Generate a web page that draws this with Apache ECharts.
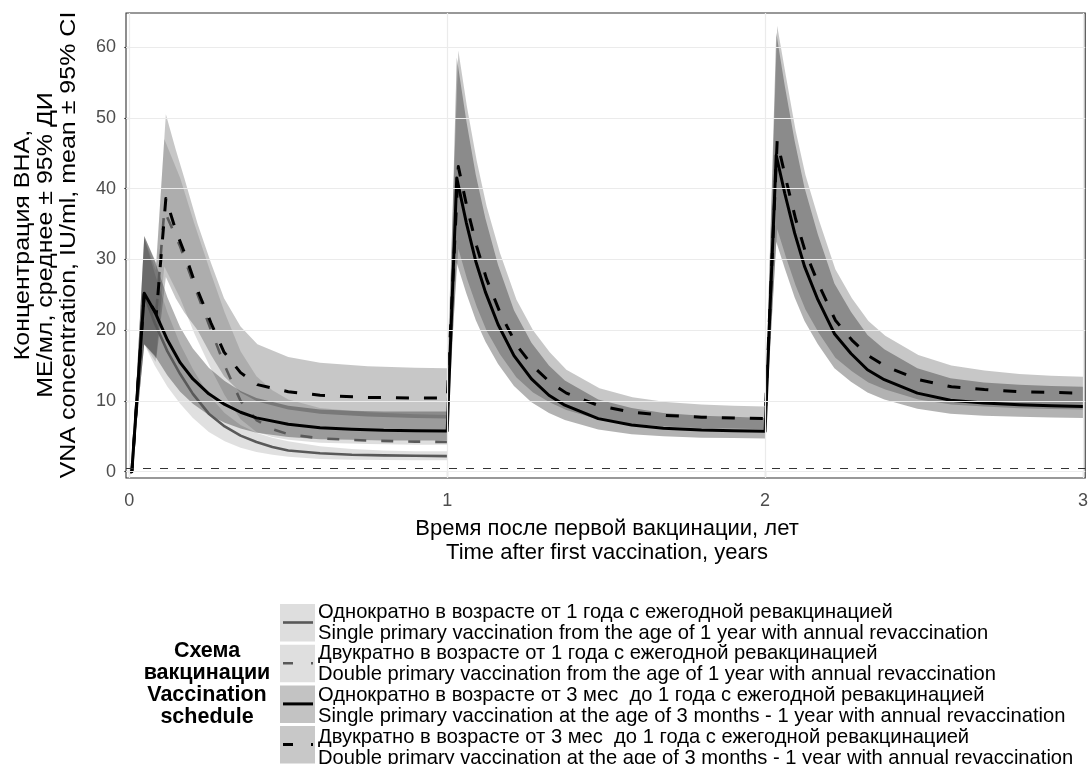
<!DOCTYPE html>
<html>
<head>
<meta charset="utf-8">
<script src="https://cdn.jsdelivr.net/npm/echarts@6/dist/echarts.min.js"></script>
<style>
html, body { margin: 0; padding: 0; background: #fff; }
#chart { width: 1091px; height: 764px; }
</style>
</head>
<body>
<div id="chart"></div>
<script>
// Однократно в возрасте от 1 года (только первый год)
var tS1 = [0, 0.008, 0.047, 0.08, 0.12, 0.16, 0.2, 0.25, 0.3, 0.35, 0.4, 0.45, 0.5, 0.6, 0.7, 0.8, 0.9, 1.0]
var meanS1 = [0, 0, 25.0, 21.0, 17.0, 13.8, 11.0, 8.2, 6.4, 5.1, 4.2, 3.5, 3.0, 2.6, 2.4, 2.3, 2.25, 2.2]
var loS1 = [0, 0, 18.0, 15.0, 12.0, 9.6, 7.6, 5.6, 4.3, 3.4, 2.8, 2.4, 2.1, 1.8, 1.7, 1.65, 1.6, 1.6]
var hiS1 = [0, 0, 33.0, 28.0, 22.5, 18.0, 14.5, 10.8, 8.3, 6.6, 5.5, 4.8, 4.3, 3.6, 3.2, 3.0, 2.9, 2.9]

// Двукратно в возрасте от 1 года
var tS2 = [0, 0.008, 0.047, 0.083, 0.11, 0.16, 0.205, 0.257, 0.3, 0.35, 0.4, 0.45, 0.5, 0.6, 0.75, 0.9, 1.0]
var meanS2 = [0, 0, 25.0, 21.5, 36.9, 31.8, 26.2, 20.0, 15.0, 10.0, 7.3, 6.0, 5.3, 4.7, 4.4, 4.25, 4.2]
var loS2 = [0, 0, 18.0, 15.5, 29.0, 24.5, 19.5, 14.5, 10.8, 7.4, 5.6, 4.9, 4.5, 4.1, 3.9, 3.8, 3.8]
var hiS2 = [0, 0, 33.0, 28.5, 47.0, 41.5, 35.0, 28.0, 22.5, 17.0, 13.5, 11.5, 10.2, 9.0, 8.4, 8.1, 8.0]

// Однократно в возрасте от 3 мес до 1 года
var tS3 = [0, 0.008, 0.047, 0.08, 0.12, 0.16, 0.2, 0.25, 0.3, 0.35, 0.4, 0.5, 0.6, 0.7, 0.8, 0.9, 1.0,
  1.03, 1.06, 1.09, 1.12, 1.16, 1.21, 1.265, 1.32, 1.37, 1.475, 1.58, 1.68, 1.8, 1.9, 2.0,
  2.035, 2.062, 2.093, 2.124, 2.166, 2.218, 2.27, 2.322, 2.375, 2.479, 2.583, 2.688, 2.8, 2.9, 3.0]
var meanS3 = [0, 0, 25.2, 22.6, 18.6, 15.4, 13.1, 11.0, 9.5, 8.4, 7.6, 6.7, 6.2, 6.0, 5.85, 5.8, 5.75,
  41.5, 35.2, 29.7, 25.4, 20.8, 16.4, 13.1, 10.8, 9.4, 7.5, 6.6, 6.15, 5.9, 5.8, 5.7,
  44.7, 39.3, 33.7, 29.0, 24.3, 19.5, 16.7, 14.4, 13.0, 11.1, 10.1, 9.7, 9.45, 9.3, 9.2]
var loS3 = [0, 0, 18.0, 16.4, 13.6, 11.3, 9.6, 8.0, 6.9, 6.1, 5.5, 4.9, 4.6, 4.5, 4.4, 4.4, 4.4,
  29.5, 25.2, 21.4, 18.4, 15.2, 12.1, 9.8, 8.3, 7.3, 5.95, 5.3, 5.0, 4.8, 4.75, 4.7,
  32.5, 28.7, 24.6, 21.3, 18.0, 14.6, 12.7, 11.2, 10.2, 8.9, 8.2, 7.9, 7.75, 7.65, 7.6]
var hiS3 = [0, 0, 33.3, 29.8, 24.6, 20.4, 17.4, 14.7, 12.8, 11.4, 10.4, 9.3, 8.8, 8.6, 8.5, 8.5, 8.5,
  58.5, 49.6, 41.9, 35.8, 29.2, 22.8, 18.2, 15.0, 12.9, 10.2, 9.0, 8.3, 7.9, 7.75, 7.6,
  62.0, 54.5, 46.7, 40.1, 33.5, 26.6, 22.6, 19.3, 17.3, 14.6, 13.2, 12.6, 12.3, 12.1, 12.0]

// Двукратно в возрасте от 3 мес до 1 года
var tS4 = [0, 0.008, 0.047, 0.085, 0.115, 0.146, 0.173, 0.215, 0.257, 0.298, 0.35, 0.403, 0.5, 0.6, 0.75, 0.9, 1.0,
  1.035, 1.062, 1.093, 1.124, 1.166, 1.218, 1.27, 1.322, 1.375, 1.479, 1.583, 1.688, 1.8, 1.9, 2.0,
  2.038, 2.065, 2.096, 2.127, 2.169, 2.221, 2.273, 2.325, 2.378, 2.482, 2.586, 2.69, 2.8, 2.9, 3.0]
var meanS4 = [0, 0, 25.2, 22.3, 38.6, 34.1, 31.0, 25.6, 21.0, 16.9, 14.0, 12.3, 11.3, 10.8, 10.5, 10.4, 10.4,
  43.1, 37.4, 31.8, 27.2, 22.5, 17.9, 14.9, 12.7, 11.1, 9.3, 8.4, 7.95, 7.7, 7.6, 7.5,
  46.7, 41.4, 35.7, 31.0, 26.4, 21.4, 18.6, 16.4, 14.9, 13.0, 12.0, 11.6, 11.3, 11.2, 11.1]
var loS4 = [0, 0, 18.0, 16.0, 27.5, 24.5, 22.5, 20.0, 16.5, 13.5, 11.2, 9.9, 8.8, 8.2, 7.8, 7.6, 7.5,
  31.5, 27.3, 23.3, 19.9, 16.6, 13.3, 11.2, 9.8, 8.7, 7.35, 6.75, 6.4, 6.15, 6.1, 6.0,
  34.3, 30.4, 26.3, 22.9, 19.6, 16.1, 14.2, 12.6, 11.6, 10.2, 9.5, 9.2, 8.95, 8.85, 8.8]
var hiS4 = [0, 0, 33.3, 29.5, 50.5, 45.5, 41.5, 35.0, 29.5, 24.5, 20.5, 18.0, 16.2, 15.4, 14.9, 14.7, 14.6,
  59.5, 51.6, 43.9, 37.5, 30.9, 24.3, 20.0, 16.9, 14.4, 11.8, 10.5, 9.85, 9.5, 9.3, 9.2,
  63.0, 56.0, 48.2, 41.9, 35.6, 28.6, 24.5, 21.3, 19.2, 16.5, 15.0, 14.3, 13.8, 13.55, 13.4]

var xTicks = [0, 1, 2, 3]
var yTicks = [0, 10, 20, 30, 40, 50, 60]
var threshold = 0.5

var yTitle = 'Концентрация ВНА,\nМЕ/мл, среднее ± 95% ДИ\nVNA concentration, IU/ml, mean ± 95% CI'
var xTitle = 'Время после первой вакцинации, лет\nTime after first vaccination, years'
var legendTitle = 'Схема\nвакцинации\nVaccination\nschedule'
var legendRu = [
  'Однократно в возрасте от 1 года с ежегодной ревакцинацией',
  'Двукратно в возрасте от 1 года с ежегодной ревакцинацией',
  'Однократно в возрасте от 3 мес  до 1 года с ежегодной ревакцинацией',
  'Двукратно в возрасте от 3 мес  до 1 года с ежегодной ревакцинацией'
]
var legendEn = [
  'Single primary vaccination from the age of 1 year with annual revaccination',
  'Double primary vaccination from the age of 1 year with annual revaccination',
  'Single primary vaccination at the age of 3 months - 1 year with annual revaccination',
  'Double primary vaccination at the age of 3 months - 1 year with annual revaccination'
]

var FONT = '"Liberation Sans", Arial, sans-serif'
var lineColors = ['#595959', '#595959', '#000000', '#000000']
var lineTypes = ['solid', [12, 15], 'solid', [13, 15]]
var lineWidths = [2.6, 2.6, 3, 3]
var ribbonColors = ['rgba(0,0,0,0.12)', 'rgba(0,0,0,0.13)', 'rgba(0,0,0,0.30)', 'rgba(0,0,0,0.22)']
var keyFills = ['#dedede', '#dfdfdf', '#c3c3c3', '#c8c8c8']

function pairs(t, v) {
  return t.map(function (x, i) { return [x, v[i]] })
}

function ribbon(t, lo, hi, color) {
  return {
    type: 'custom',
    silent: true,
    z: 1,
    data: t.map(function (x, i) { return [x, lo[i], hi[i]] }),
    encode: { x: 0, y: [1, 2] },
    renderItem: function (params, api) {
      if (params.dataIndex !== 0) return
      var top = []
      var bottom = []
      for (var i = 0; i < t.length; i++) {
        top.push(api.coord([t[i], hi[i]]))
        bottom.unshift(api.coord([t[i], lo[i]]))
      }
      return {
        type: 'polygon',
        shape: { points: top.concat(bottom) },
        style: { fill: color }
      }
    }
  }
}

function meanLine(t, v, k) {
  return {
    type: 'line',
    silent: true,
    z: 3,
    data: pairs(t, v),
    showSymbol: false,
    symbol: 'none',
    lineStyle: { color: lineColors[k], width: lineWidths[k], type: lineTypes[k], cap: 'butt', join: 'round' }
  }
}

var gridLines = yTicks.map(function (v) { return { yAxis: v } })
  .concat(xTicks.map(function (v) { return { xAxis: v } }))
gridLines.push({
  yAxis: threshold,
  lineStyle: { color: '#333333', width: 1.2, type: [8, 9] }
})

// легенда: ключи и подписи в две строки
var legendGraphics = [{
  type: 'text', x: 207, y: 684,
  style: {
    text: legendTitle, fontFamily: FONT, fontSize: 21.5, fontWeight: 'bold', fill: '#000',
    align: 'center', verticalAlign: 'middle', textAlign: 'center', textVerticalAlign: 'middle', lineHeight: 22
  }
}]
for (var k = 0; k < 4; k++) {
  var keyTop = 604 + k * 40.7
  legendGraphics.push({
    type: 'rect',
    shape: { x: 280, y: keyTop, width: 35, height: 37.5 },
    style: { fill: keyFills[k] }
  })
  legendGraphics.push({
    type: 'line',
    shape: { x1: 283, y1: keyTop + 18.5, x2: 313, y2: keyTop + 18.5 },
    style: { stroke: lineColors[k], lineWidth: lineWidths[k], lineDash: k % 2 ? [10, 18] : null }
  })
  legendGraphics.push({
    type: 'text', x: 318, y: 612 + k * 41.6, scaleX: 0.96,
    style: { text: legendRu[k], fontFamily: FONT, fontSize: 21, fill: '#000', verticalAlign: 'middle', textVerticalAlign: 'middle' }
  })
  legendGraphics.push({
    type: 'text', x: 318, y: 633 + k * 41.6, scaleX: 0.96,
    style: { text: legendEn[k], fontFamily: FONT, fontSize: 21, fill: '#000', verticalAlign: 'middle', textVerticalAlign: 'middle' }
  })
}

var option = {
  animation: false,
  backgroundColor: '#ffffff',
  textStyle: { fontFamily: FONT },
  grid: {
    left: 126, right: 2.5, top: 13, bottom: 286,
    show: true, borderColor: '#333333', borderWidth: 1.1, backgroundColor: 'transparent'
  },
  xAxis: {
    type: 'value',
    min: -0.0104,
    max: 3.007,
    axisLine: { show: false },
    splitLine: { show: false },
    axisTick: { show: true, length: 5, customValues: xTicks, lineStyle: { color: '#333', width: 1.1 } },
    axisLabel: { customValues: xTicks, color: '#4d4d4d', fontSize: 18, margin: 14, fontFamily: FONT }
  },
  yAxis: {
    type: 'value',
    min: -0.89,
    max: 64.8,
    axisLine: { show: false },
    splitLine: { show: false },
    axisTick: { show: true, length: 5, customValues: yTicks, lineStyle: { color: '#333', width: 1.1 } },
    axisLabel: { customValues: yTicks, color: '#4d4d4d', fontSize: 18, margin: 10, fontFamily: FONT }
  },
  graphic: [
    {
      type: 'text', x: 46, y: 245, rotation: Math.PI / 2, scaleY: 0.9,
      style: {
        text: yTitle, fontFamily: FONT, fontSize: 25, fill: '#000', lineHeight: 25.5,
        align: 'center', verticalAlign: 'middle', textAlign: 'center', textVerticalAlign: 'middle'
      }
    },
    {
      type: 'text', x: 607, y: 541,
      style: {
        text: xTitle, fontFamily: FONT, fontSize: 22, fill: '#000', lineHeight: 24,
        align: 'center', verticalAlign: 'middle', textAlign: 'center', textVerticalAlign: 'middle'
      }
    }
  ].concat(legendGraphics),
  series: [
    {
      type: 'line',
      silent: true,
      z: 0,
      data: [[0, 0]],
      showSymbol: false,
      symbol: 'none',
      lineStyle: { width: 0 },
      markLine: {
        silent: true,
        symbol: 'none',
        label: { show: false },
        animation: false,
        lineStyle: { color: '#ebebeb', width: 1.2, type: 'solid' },
        data: gridLines
      }
    },
    ribbon(tS1, loS1, hiS1, ribbonColors[0]),
    ribbon(tS2, loS2, hiS2, ribbonColors[1]),
    ribbon(tS3, loS3, hiS3, ribbonColors[2]),
    ribbon(tS4, loS4, hiS4, ribbonColors[3]),
    meanLine(tS1, meanS1, 0),
    meanLine(tS2, meanS2, 1),
    meanLine(tS3, meanS3, 2),
    meanLine(tS4, meanS4, 3)
  ]
}

var chart = echarts.init(document.getElementById('chart'), null, { renderer: 'canvas' })
chart.setOption(option)
</script>
</body>
</html>
